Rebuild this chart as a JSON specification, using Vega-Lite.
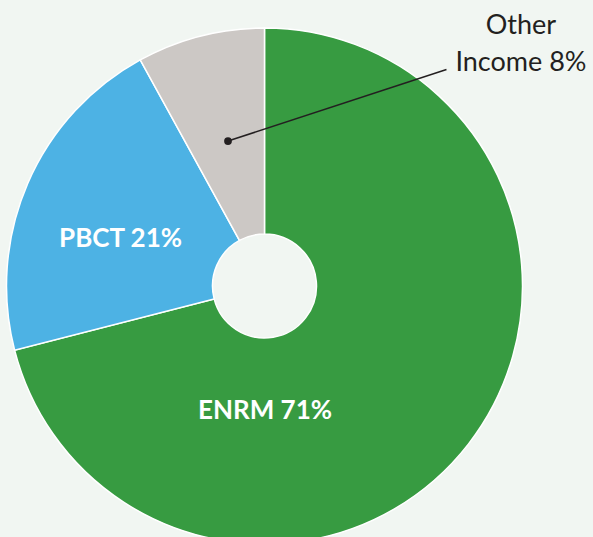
{
  "$schema": "https://vega.github.io/schema/vega-lite/v6.json",
  "width": 529,
  "height": 572,
  "autosize": {"type": "none"},
  "padding": {"left": 0, "top": 0, "right": 64, "bottom": 0},
  "background": "#F1F6F2",
  "view": {"stroke": null},
  "datasets": {
    "shares": [
      {"segment": "ENRM", "share": 71, "rank": 1},
      {"segment": "PBCT", "share": 21, "rank": 2},
      {"segment": "Other Income", "share": 8, "rank": 3}
    ],
    "labels": [
      {"text": "PBCT 21%", "x": -0.558, "y": 0.150, "kind": "inside"},
      {"text": "ENRM 71%", "x": 0.002, "y": -0.5155, "kind": "inside"},
      {"text": "Other", "x": 0.994, "y": 0.978, "kind": "outside"},
      {"text": "Income 8%", "x": 0.994, "y": 0.833, "kind": "outside"}
    ],
    "leader": [
      {"x": -0.1415, "y": 0.562, "end": "dot"},
      {"x": 0.7054, "y": 0.839, "end": "tip"}
    ]
  },
  "layer": [
    {
      "data": {"name": "shares"},
      "mark": {"type": "arc", "outerRadius": 258, "innerRadius": 52, "stroke": "#FFFFFF", "strokeWidth": 1.5},
      "encoding": {
        "theta": {"field": "share", "type": "quantitative", "stack": true},
        "order": {"field": "rank", "type": "quantitative", "sort": "ascending"},
        "color": {
          "field": "segment",
          "type": "nominal",
          "scale": {"domain": ["ENRM", "PBCT", "Other Income"], "range": ["#379B41", "#4DB2E4", "#CCC8C5"]},
          "legend": null
        }
      }
    },
    {
      "data": {"name": "leader"},
      "mark": {"type": "line", "color": "#231F20", "strokeWidth": 1.5},
      "encoding": {
        "x": {"field": "x", "type": "quantitative", "scale": {"domain": [-1.02519, 1.02519], "nice": false, "zero": false}, "axis": null},
        "y": {"field": "y", "type": "quantitative", "scale": {"domain": [-1.10853, 1.10853], "nice": false, "zero": false}, "axis": null}
      }
    },
    {
      "data": {"name": "leader"},
      "transform": [{"filter": "datum.end === 'dot'"}],
      "mark": {"type": "point", "filled": true, "color": "#231F20", "size": 60, "opacity": 1},
      "encoding": {
        "x": {"field": "x", "type": "quantitative"},
        "y": {"field": "y", "type": "quantitative"}
      }
    },
    {
      "data": {"name": "labels"},
      "transform": [{"filter": "datum.kind === 'inside'"}],
      "mark": {"type": "text", "font": "Lato", "fontWeight": "bold", "fontSize": 26, "color": "#FFFFFF", "align": "center", "baseline": "alphabetic"},
      "encoding": {
        "x": {"field": "x", "type": "quantitative"},
        "y": {"field": "y", "type": "quantitative"},
        "text": {"field": "text", "type": "nominal"}
      }
    },
    {
      "data": {"name": "labels"},
      "transform": [{"filter": "datum.kind === 'outside'"}],
      "mark": {"type": "text", "font": "Lato", "fontSize": 27, "color": "#231F20", "align": "center", "baseline": "alphabetic"},
      "encoding": {
        "x": {"field": "x", "type": "quantitative"},
        "y": {"field": "y", "type": "quantitative"},
        "text": {"field": "text", "type": "nominal"}
      }
    }
  ]
}
